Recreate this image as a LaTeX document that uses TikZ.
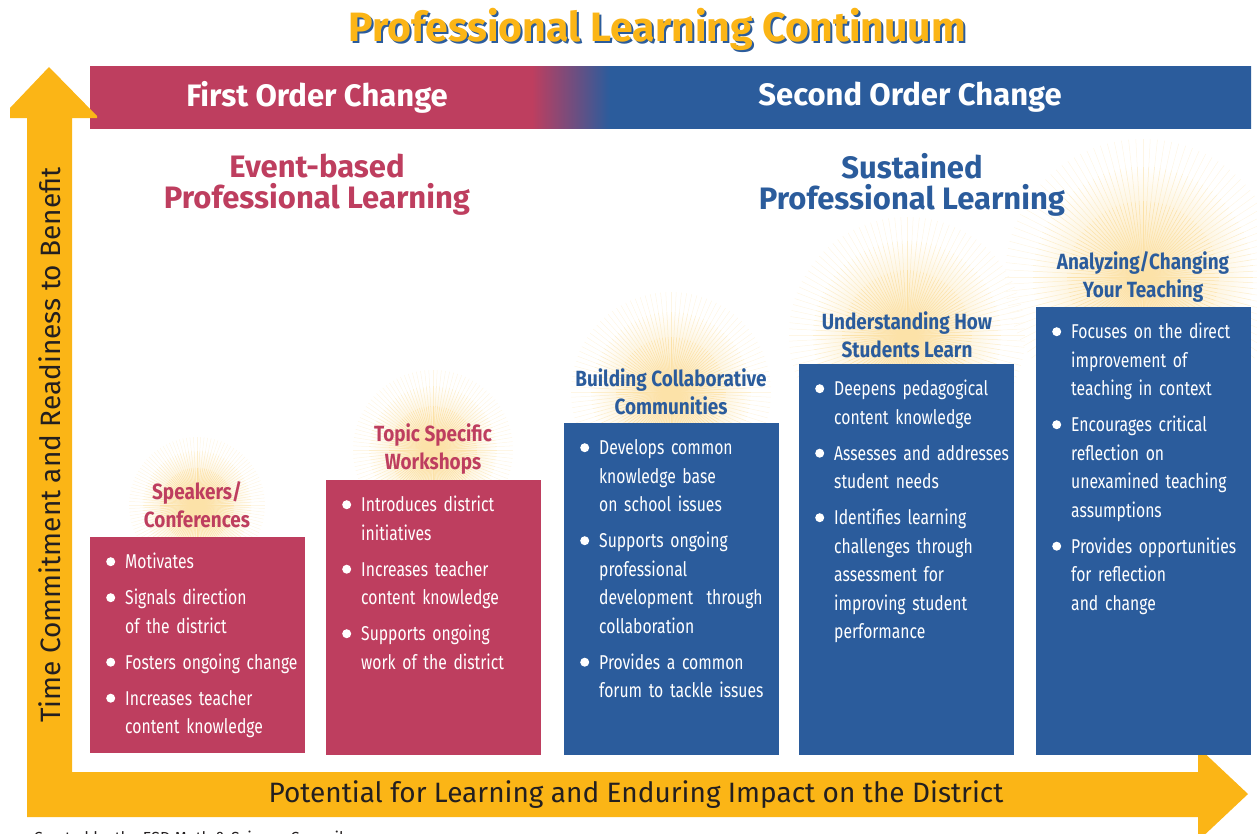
\documentclass[tikz,border=0pt]{standalone}
\usepackage{fontspec}
\setmainfont{Fira Sans}
\newfontfamily\narrowfont[FakeStretch=0.785]{Fira Sans}
\newfontfamily\cardfont[FakeStretch=0.86]{Fira Sans}
\usepackage{enumitem}

\definecolor{pinkc}{RGB}{190,62,95}
\definecolor{bluec}{RGB}{43,92,156}
\definecolor{gold}{RGB}{251,181,22}
\definecolor{sunc}{RGB}{252,226,168}
\definecolor{inkc}{RGB}{35,31,32}

\pgfdeclarehorizontalshading{bannerfade}{100bp}{color(0bp)=(pinkc); color(44.03bp)=(pinkc); color(47.39bp)=(bluec); color(100bp)=(bluec)}

% rays behind the card titles
\newcommand{\sunburst}[3]{%
  \shade[inner color=sunc,outer color=white] (#1,#2) circle[radius={0.8*#3pt}];
  \foreach \ang in {0,3,...,357}{
    \draw[sunray,sunc] (#1,#2) -- ++(\ang:0.55*#3);
    \draw[sunray,sunc!60] (#1,#2) ++(\ang:0.55*#3) -- ++(\ang:0.25*#3);
    \draw[sunray,sunc!30] (#1,#2) ++(\ang:0.8*#3) -- ++(\ang:0.2*#3);
  }}

\newenvironment{pointlist}{\begin{itemize}[nosep,itemsep=7.5pt,leftmargin=35pt,labelsep=10pt,
  label={\tikz[baseline=-7pt]\fill[white] (0,0) circle[radius=4.5pt];}]\raggedright}{\end{itemize}}

\begin{document}
\begin{tikzpicture}[x=1pt,y=-1pt,
    bannertext/.style={text=white,font=\bfseries\fontsize{31}{31}\selectfont},
    heading/.style={font=\bfseries\fontsize{31}{31}\selectfont,align=center},
    card/.style={anchor=north west,inner sep=0,minimum width=215pt},
    cardtitle/.style={font=\cardfont\bfseries\fontsize{22}{28}\selectfont,align=center},
    points/.style={anchor=north west,inner sep=0,text width=215pt,text=white,font=\narrowfont\fontsize{20}{28.5}\selectfont},
    sunray/.style={line width=0.5pt}]
\useasboundingbox (0,0) rectangle (1257,833);
\clip (0,0) rectangle (1257,833);

% title
\node[font=\bfseries\fontsize{41}{41}\selectfont,text=bluec] (titleshadow) at (659,31) {Professional Learning Continuum};
\node[font=\bfseries\fontsize{41}{41}\selectfont,text=gold] (title) at (657,29) {Professional Learning Continuum};

% banner
\shade[shading=bannerfade] (90,66) rectangle (1251,128);
\node[bannertext] (first) at (317,97) {First Order Change};
\node[bannertext] (second) at (910,97) {Second Order Change};

% axes arrow
\fill[gold] (27,817) -- (27,118) -- (10,118) -- (10,108) -- (49,67) -- (97,116) -- (97,118)
  -- (72,118) -- (72,772) -- (1198,772) -- (1198,747) -- (1248,794) -- (1198,841)
  -- (1198,817) -- cycle;
\node[rotate=90,text=inkc,font=\fontsize{28}{28}\selectfont] (yaxis) at (50,445) {Time Commitment and Readiness to Benefit};
\node[text=inkc,font=\fontsize{28}{28}\selectfont] (xaxis) at (636,795) {Potential for Learning and Enduring Impact on the District};
\node[anchor=base west,text=inkc,font=\fontsize{16}{16}\selectfont] (credit) at (30,843) {Created by the ESD Math \& Science Council};

% suns
\sunburst{197}{505}{68}
\sunburst{433}{450}{80}
\sunburst{671}{392}{100}
\sunburst{907}{335}{118}
\sunburst{1143}{277}{138}

% headings
\node[heading,text=pinkc] (event) at (317,185) {Event-based\\Professional Learning};
\node[heading,text=bluec] (sustained) at (912,185) {Sustained\\Professional Learning};

% cards
\node[card,fill=pinkc,minimum height=216pt] (spkbox) at (90,537) {};
\node[card,fill=pinkc,minimum height=275pt] (topbox) at (326,480) {};
\node[card,fill=bluec,minimum height=332pt] (bldbox) at (564,423) {};
\node[card,fill=bluec,minimum height=391pt] (undbox) at (799,364) {};
\node[card,fill=bluec,minimum height=448pt] (anabox) at (1036,307) {};

\node[cardtitle,text=pinkc] (spktitle) at (197,505) {Speakers/\\Conferences};
\node[cardtitle,text=pinkc] (toptitle) at (433,449) {Topic Specific\\Workshops};
\node[cardtitle,text=bluec] (bldtitle) at (671,392) {Building Collaborative\\Communities};
\node[cardtitle,text=bluec] (undtitle) at (907,335) {Understanding How\\Students Learn};
\node[cardtitle,text=bluec] (anatitle) at (1143,277) {Analyzing/Changing\\Your Teaching};

\node[points] (spkpts) at ([yshift=-3pt]spkbox.north west) {\begin{pointlist}
  \item Motivates
  \item Signals direction\\of the district
  \item Fosters ongoing change
  \item Increases teacher\\content knowledge
\end{pointlist}};
\node[points] (toppts) at ([yshift=-3pt]topbox.north west) {\begin{pointlist}
  \item Introduces district\\initiatives
  \item Increases teacher\\content knowledge
  \item Supports ongoing\\work of the district
\end{pointlist}};
\node[points] (bldpts) at ([yshift=-3pt]bldbox.north west) {\begin{pointlist}
  \item Develops common\\knowledge base\\on school issues
  \item Supports ongoing\\professional\\development~ through\\collaboration
  \item Provides a common\\forum to tackle issues
\end{pointlist}};
\node[points] (undpts) at ([yshift=-3pt]undbox.north west) {\begin{pointlist}
  \item Deepens pedagogical\\content knowledge
  \item Assesses and addresses\\student needs
  \item Identifies learning\\challenges through\\assessment for\\improving student\\performance
\end{pointlist}};
\node[points] (anapts) at ([yshift=-3pt]anabox.north west) {\begin{pointlist}
  \item Focuses on the direct\\improvement of\\teaching in context
  \item Encourages critical\\reflection on\\unexamined teaching\\assumptions
  \item Provides opportunities\\for reflection\\and change
\end{pointlist}};
\end{tikzpicture}
\end{document}
